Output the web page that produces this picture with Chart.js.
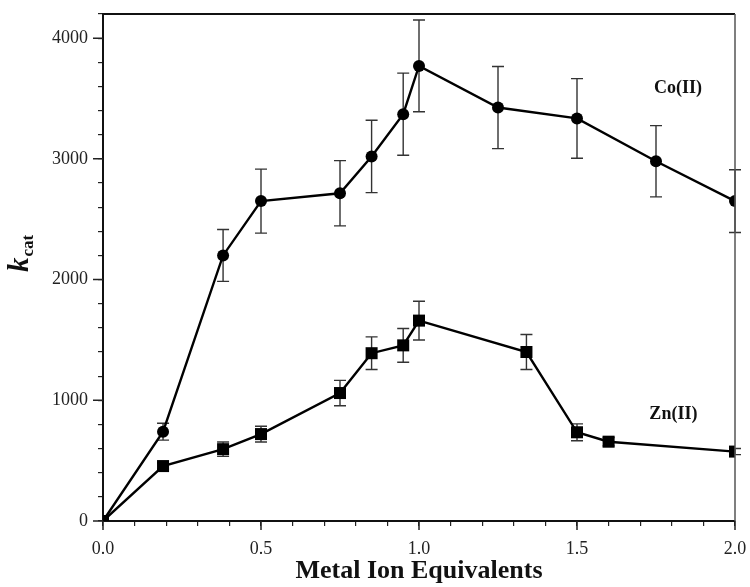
<!DOCTYPE html>
<html>
<head>
<meta charset="utf-8">
<script src="https://cdn.jsdelivr.net/npm/chart.js@4"></script>
<style>
    html, body { margin: 0; padding: 0; background: #fff; }
    #wrap { width: 750px; height: 587px; }
</style>
</head>
<body>
<div id="wrap"><canvas id="kcatChart" width="750" height="587"></canvas></div>
<script>
// Co(II) titration
const coEquiv = [0, 0.19, 0.38, 0.5, 0.75, 0.85, 0.95, 1.0, 1.25, 1.5, 1.75, 2.0];
const coKcat = [0, 740, 2200, 2650, 2715, 3020, 3370, 3770, 3425, 3335, 2980, 2650];
const coErr = [0, 70, 215, 265, 270, 300, 340, 380, 340, 330, 295, 260];

// Zn(II) titration
const znEquiv = [0, 0.19, 0.38, 0.5, 0.75, 0.85, 0.95, 1.0, 1.34, 1.5, 1.6, 2.0];
const znKcat = [0, 455, 595, 720, 1060, 1390, 1455, 1660, 1400, 735, 657, 575];
const znErr = [0, 25, 60, 65, 105, 135, 140, 160, 145, 70, 35, 25];

const xMajorTicks = [0, 0.5, 1.0, 1.5, 2.0];
const yMajorTicks = [0, 1000, 2000, 3000, 4000];

const seriesLabels = [
    { text: "Co(II)", x: 1.82, y: 3580 },
    { text: "Zn(II)", x: 1.805, y: 885 },
];

const serif = "'Liberation Serif', 'DejaVu Serif', serif";

function toPoints(xs, ys) {
    return xs.map((x, i) => ({ x: x, y: ys[i] }));
}

const errorBarPlugin = {
    id: "errorBars",
    beforeDatasetsDraw(chart) {
        const { ctx, scales } = chart;
        const sets = [[coEquiv, coKcat, coErr], [znEquiv, znKcat, znErr]];
        ctx.save();
        ctx.strokeStyle = "#333";
        ctx.lineWidth = 1.4;
        sets.forEach(([xs, ys, errs]) => {
            xs.forEach((x, i) => {
                if (!errs[i]) {
                    return;
                }
                const px = scales.x.getPixelForValue(x);
                const top = scales.y.getPixelForValue(ys[i] + errs[i]);
                const bottom = scales.y.getPixelForValue(ys[i] - errs[i]);
                ctx.beginPath();
                ctx.moveTo(px, top);
                ctx.lineTo(px, bottom);
                ctx.moveTo(px - 6, top);
                ctx.lineTo(px + 6, top);
                ctx.moveTo(px - 6, bottom);
                ctx.lineTo(px + 6, bottom);
                ctx.stroke();
            });
        });
        ctx.restore();
    },
};

const decorPlugin = {
    id: "decor",
    afterDraw(chart) {
        const { ctx, chartArea, scales } = chart;
        ctx.save();

        // top and right frame lines
        ctx.strokeStyle = "#111";
        ctx.lineWidth = 2;
        ctx.beginPath();
        ctx.moveTo(chartArea.left, chartArea.top);
        ctx.lineTo(chartArea.right, chartArea.top);
        ctx.stroke();
        ctx.strokeStyle = "#555";
        ctx.lineWidth = 1.5;
        ctx.beginPath();
        ctx.moveTo(chartArea.right, chartArea.top);
        ctx.lineTo(chartArea.right, chartArea.bottom);
        ctx.stroke();

        // longer major ticks
        ctx.strokeStyle = "#222";
        ctx.lineWidth = 1.5;
        ctx.beginPath();
        xMajorTicks.forEach((v) => {
            const px = scales.x.getPixelForValue(v);
            ctx.moveTo(px, chartArea.bottom);
            ctx.lineTo(px, chartArea.bottom + 9);
        });
        yMajorTicks.forEach((v) => {
            const py = scales.y.getPixelForValue(v);
            ctx.moveTo(chartArea.left, py);
            ctx.lineTo(chartArea.left - 10, py);
        });
        ctx.stroke();

        // series labels
        ctx.fillStyle = "#111";
        ctx.font = "bold 18px " + serif;
        ctx.textAlign = "center";
        ctx.textBaseline = "middle";
        seriesLabels.forEach((label) => {
            ctx.fillText(label.text, scales.x.getPixelForValue(label.x), scales.y.getPixelForValue(label.y));
        });

        // y axis title: k_cat
        ctx.translate(28, 254);
        ctx.rotate(-Math.PI / 2);
        ctx.textAlign = "left";
        ctx.textBaseline = "alphabetic";
        ctx.font = "italic bold 29px " + serif;
        const kWidth = ctx.measureText("k").width;
        ctx.font = "bold 17px " + serif;
        const catWidth = ctx.measureText("cat").width;
        const startX = -(kWidth + catWidth) / 2;
        ctx.font = "italic bold 29px " + serif;
        ctx.fillText("k", startX, 0);
        ctx.font = "bold 17px " + serif;
        ctx.fillText("cat", startX + kWidth + 1, 5);

        ctx.restore();
    },
};

new Chart(document.getElementById("kcatChart"), {
    type: "scatter",
    data: {
        datasets: [
            {
                label: "Co(II)",
                data: toPoints(coEquiv, coKcat),
                showLine: true,
                borderColor: "#000",
                backgroundColor: "#000",
                borderWidth: 2.4,
                pointStyle: "circle",
                pointRadius: 6,
                pointBorderWidth: 0,
            },
            {
                label: "Zn(II)",
                data: toPoints(znEquiv, znKcat),
                showLine: true,
                borderColor: "#000",
                backgroundColor: "#000",
                borderWidth: 2.4,
                pointStyle: "rect",
                pointRadius: 8.5,
                pointBorderWidth: 0,
            },
        ],
    },
    options: {
        responsive: false,
        animation: false,
        layout: { padding: { top: 14, right: 15, left: 0, bottom: 0 } },
        plugins: {
            legend: { display: false },
            tooltip: { enabled: false },
        },
        scales: {
            x: {
                type: "linear",
                min: 0,
                max: 2,
                afterFit: (scale) => {
                    scale.height = 66;
                    scale.paddingLeft = 0;
                    scale.paddingRight = 0;
                },
                border: { display: true, color: "#111", width: 2 },
                grid: { drawOnChartArea: false, tickLength: 5, color: "#222", lineWidth: 1.2 },
                ticks: {
                    stepSize: 0.1,
                    autoSkip: false,
                    maxRotation: 0,
                    padding: 12,
                    color: "#222",
                    font: { family: serif, size: 18 },
                    callback: (value) => (Math.round(value * 10) % 5 === 0 ? value.toFixed(1) : ""),
                },
                title: {
                    display: true,
                    text: "Metal Ion Equivalents",
                    color: "#111",
                    font: { family: serif, size: 26, weight: "bold" },
                    padding: { top: 0, bottom: 0 },
                },
            },
            y: {
                type: "linear",
                min: 0,
                max: 4200,
                afterFit: (scale) => {
                    scale.width = 103;
                    scale.paddingTop = 0;
                    scale.paddingBottom = 0;
                },
                border: { display: true, color: "#111", width: 2 },
                grid: { drawOnChartArea: false, tickLength: 5, color: "#222", lineWidth: 1.2 },
                ticks: {
                    stepSize: 200,
                    autoSkip: false,
                    padding: 10,
                    color: "#222",
                    font: { family: serif, size: 18 },
                    callback: (value) => (value % 1000 === 0 ? String(value) : ""),
                },
            },
        },
    },
    plugins: [errorBarPlugin, decorPlugin],
});
</script>
</body>
</html>
